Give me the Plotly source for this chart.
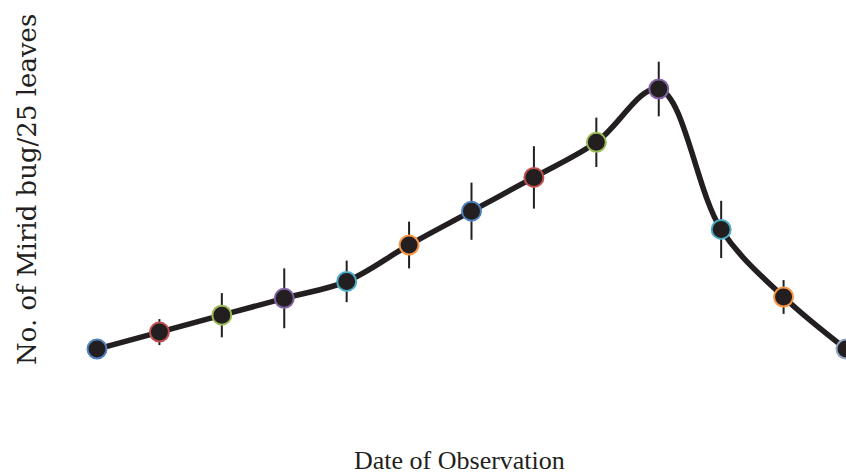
import plotly.graph_objects as go

# Observation sequence (13 sampling dates)
dates = list(range(1, 14))
mirid_counts = [1.0, 1.65, 2.3, 2.95, 3.6, 5.0, 6.3, 7.6, 8.95, 11.0, 5.6, 3.0, 1.0]
std_errors = [0.0, 0.5, 0.85, 1.15, 0.8, 0.9, 1.1, 1.2, 0.95, 1.05, 1.1, 0.65, 0.0]
outline_colors = ["#4f81bd", "#c0504d", "#9bbb59", "#8064a2", "#4bacc6", "#f79646",
                  "#4f81bd", "#c0504d", "#9bbb59", "#8064a2", "#4bacc6", "#f79646",
                  "#95a8c8"]

ink = "#231f20"

fig = go.Figure()

# smoothed trend line
fig.add_trace(go.Scatter(
    x=dates, y=mirid_counts, mode="lines",
    line=dict(color=ink, width=5.5, shape="spline", smoothing=1.0),
    hoverinfo="skip", cliponaxis=False, showlegend=False,
))

# error bars and markers
fig.add_trace(go.Scatter(
    x=dates, y=mirid_counts, mode="markers",
    error_y=dict(type="data", array=std_errors, visible=True,
                 color=ink, thickness=2, width=0),
    marker=dict(size=19, color=ink, line=dict(color=outline_colors, width=2)),
    cliponaxis=False, showlegend=False,
))

fig.update_layout(
    width=846, height=475,
    margin=dict(l=97, r=0, t=24, b=75),
    paper_bgcolor="white", plot_bgcolor="white",
    xaxis=dict(range=[1, 13], visible=False),
    yaxis=dict(range=[-0.9615, 13.5], visible=False),
    annotations=[
        dict(text="Date of Observation", xref="paper", yref="paper",
             x=0.4846, y=-0.16, xanchor="center", yanchor="middle", showarrow=False,
             font=dict(family="Liberation Serif, Times New Roman, serif", size=26, color=ink)),
        dict(text="No. of Mirid bug/25 leaves", xref="paper", yref="paper",
             x=-0.0935, y=0.561, xanchor="center", yanchor="middle",
             textangle=-90, showarrow=False,
             font=dict(family="DejaVu Serif, Liberation Serif, serif", size=26, color=ink)),
    ],
)

fig.write_html("out.html")
